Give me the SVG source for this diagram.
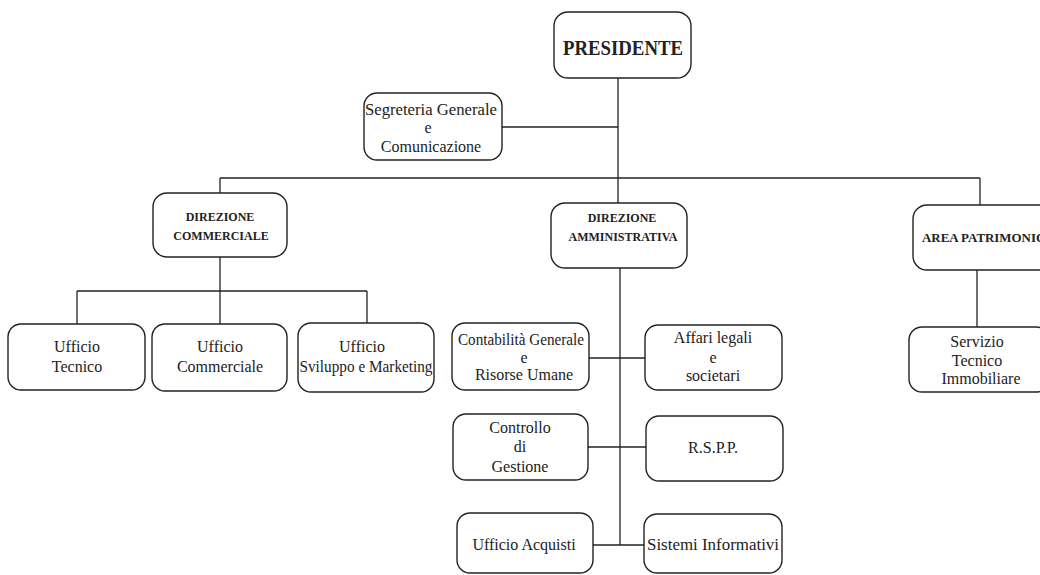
<svg xmlns="http://www.w3.org/2000/svg" width="1040" height="575" viewBox="0 0 1040 575">
<style>
.box{fill:#fff;stroke:#222;stroke-width:1.4}
.t{font-family:"Liberation Serif",serif;font-size:16px;fill:#222;text-anchor:middle}
.h{font-family:"Liberation Serif",serif;font-size:12px;font-weight:bold;fill:#222;text-anchor:middle}
.conn line{stroke:#222;stroke-width:1.3}
</style>
<rect width="1040" height="575" fill="#fff"/>
<g class="conn">
<line x1="618" y1="78" x2="618" y2="203"/>
<line x1="502" y1="127" x2="618" y2="127"/>
<line x1="220" y1="178" x2="980" y2="178"/>
<line x1="220" y1="178" x2="220" y2="193"/>
<line x1="980" y1="178" x2="980" y2="205"/>
<line x1="220" y1="257" x2="220" y2="324"/>
<line x1="77" y1="291" x2="367" y2="291"/>
<line x1="77" y1="291" x2="77" y2="324"/>
<line x1="367" y1="291" x2="367" y2="323"/>
<line x1="620" y1="268" x2="620" y2="545"/>
<line x1="589" y1="358" x2="645" y2="358"/>
<line x1="588" y1="447" x2="646" y2="447"/>
<line x1="593" y1="545" x2="644" y2="545"/>
<line x1="977" y1="270" x2="977" y2="327"/>
</g>
<g id="presidente"><rect class="box" x="554" y="12" width="137" height="66" rx="14"/><text x="623" y="55" font-family="Liberation Serif,serif" font-size="20" font-weight="bold" fill="#222" text-anchor="middle" textLength="120" lengthAdjust="spacingAndGlyphs">PRESIDENTE</text></g>
<g id="segreteria"><rect class="box" x="364" y="93" width="138" height="67" rx="13"/><text class="t" x="431" y="115" textLength="132" lengthAdjust="spacingAndGlyphs">Segreteria Generale</text><text class="t" x="428" y="133">e</text><text class="t" x="431" y="152">Comunicazione</text></g>
<g id="dir-comm"><rect class="box" x="153" y="193" width="134" height="64" rx="14"/><text class="h" x="220" y="221">DIREZIONE</text><text class="h" x="221" y="240">COMMERCIALE</text></g>
<g id="dir-amm"><rect class="box" x="551" y="203" width="136" height="65" rx="14"/><text class="h" x="622" y="222">DIREZIONE</text><text class="h" x="623" y="241">AMMINISTRATIVA</text></g>
<g id="area-patr"><rect class="box" x="913" y="205" width="140" height="65" rx="14"/><text class="h" x="922" y="242" style="text-anchor:start" textLength="124" lengthAdjust="spacingAndGlyphs">AREA PATRIMONIO</text></g>
<g id="uff-tecnico"><rect class="box" x="8" y="324" width="137" height="66" rx="13"/><text class="t" x="77" y="352">Ufficio</text><text class="t" x="77" y="372">Tecnico</text></g>
<g id="uff-comm"><rect class="box" x="152" y="324" width="135" height="67" rx="13"/><text class="t" x="220" y="352">Ufficio</text><text class="t" x="220" y="372">Commerciale</text></g>
<g id="uff-svil"><rect class="box" x="298" y="323" width="136" height="69" rx="13"/><text class="t" x="362" y="352">Ufficio</text><text class="t" x="366" y="372" textLength="133" lengthAdjust="spacingAndGlyphs">Sviluppo e Marketing</text></g>
<g id="contabilita"><rect class="box" x="452" y="323" width="137" height="67" rx="13"/><text class="t" x="521" y="345" textLength="126" lengthAdjust="spacingAndGlyphs">Contabilità Generale</text><text class="t" x="524" y="363">e</text><text class="t" x="524" y="380">Risorse Umane</text></g>
<g id="affari"><rect class="box" x="645" y="325" width="137" height="65" rx="13"/><text class="t" x="713" y="343">Affari legali</text><text class="t" x="713" y="363">e</text><text class="t" x="713" y="381">societari</text></g>
<g id="controllo"><rect class="box" x="453" y="414" width="135" height="66" rx="13"/><text class="t" x="520" y="433">Controllo</text><text class="t" x="520" y="452">di</text><text class="t" x="520" y="472">Gestione</text></g>
<g id="rspp"><rect class="box" x="646" y="416" width="137" height="65" rx="13"/><text class="t" x="713" y="453">R.S.P.P.</text></g>
<g id="acquisti"><rect class="box" x="457" y="513" width="136" height="60" rx="13"/><text class="t" x="524" y="550">Ufficio Acquisti</text></g>
<g id="sistemi"><rect class="box" x="644" y="514" width="138" height="59" rx="13"/><text class="t" x="713" y="550" textLength="132" lengthAdjust="spacingAndGlyphs">Sistemi Informativi</text></g>
<g id="servizio"><rect class="box" x="909" y="327" width="140" height="65" rx="13"/><text class="t" x="977" y="347">Servizio</text><text class="t" x="977" y="366">Tecnico</text><text class="t" x="981" y="384">Immobiliare</text></g>
</svg>
